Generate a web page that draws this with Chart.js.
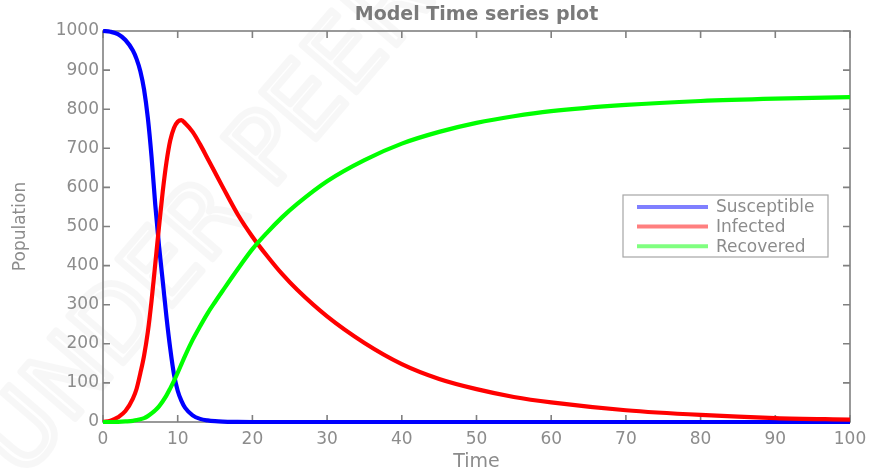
<!DOCTYPE html>
<html>
<head>
<meta charset="utf-8">
<script src="https://cdn.jsdelivr.net/npm/chart.js@4.4.1/dist/chart.umd.min.js"></script>
<style>
  html, body { margin: 0; padding: 0; background: #fff; }
  #wrap { width: 876px; height: 474px; }
</style>
</head>
<body>
<div id="wrap"><canvas id="simChart" width="876" height="474"></canvas></div>
<script>
// values
const times       = [0, 1, 2, 3, 4, 4.5, 5, 5.5, 6, 6.5, 7, 7.5, 8, 8.5, 9, 9.5, 10, 10.5, 11, 12, 13, 14, 15, 16, 18, 20, 22, 24, 26, 30, 35, 40, 45, 50, 55, 60, 70, 80, 90, 100];
const susceptible = [1000, 998, 992, 977, 950, 928, 897, 850, 778, 678, 555, 450, 360, 268, 188, 122, 80, 54, 36, 17, 8, 4, 2, 1, 0.3, 0, 0, 0, 0, 0, 0, 0, 0, 0, 0, 0, 0, 0, 0, 0];
const infected    = [0, 3, 12, 28, 60, 85, 125, 170, 230, 310, 405, 500, 590, 665, 720, 752, 768, 772, 764, 742, 710, 674, 638, 602, 532, 474, 424, 378, 338, 270, 202, 148, 110, 84, 64, 50, 30, 18, 10, 6];
const recovered   = [0, 0, 0.5, 1.5, 3, 5, 7, 10, 15, 22, 30, 40, 53, 68, 86, 105, 126, 148, 170, 210, 245, 278, 307, 335, 390, 442, 485, 524, 558, 616, 670, 712, 742, 765, 782, 795, 811, 821, 827, 831];

const seriesNames  = ['Susceptible', 'Infected', 'Recovered'];
const seriesColors = ['#0000ff', '#ff0000', '#00ff00'];
const legendColors = ['rgba(0,0,255,0.5)', 'rgba(255,0,0,0.5)', 'rgba(0,255,0,0.5)'];

const xTickValues = [0, 10, 20, 30, 40, 50, 60, 70, 80, 90, 100];
const yTickValues = [0, 100, 200, 300, 400, 500, 600, 700, 800, 900, 1000];

const chartTitle = 'Model Time series plot';
const watermark  = 'UNDER PEER REVIEW';

const GRAY = '#8c8c8c';
const FONT = "'DejaVu Sans', sans-serif";

function toPoints(vals) {
    return times.map((t, i) => ({ x: t, y: vals[i] }));
}

// white background, faint outlined watermark, title centred on the axes
const backdrop = {
    id: 'backdrop',
    beforeDraw(chart) {
        const ctx = chart.ctx;
        ctx.save();
        ctx.fillStyle = '#fff';
        ctx.fillRect(0, 0, chart.width, chart.height);
        ctx.translate(22, 480);
        ctx.rotate(-0.86);
        ctx.font = "98px " + FONT;
        ctx.strokeStyle = 'rgba(0,0,0,0.03)';
        ctx.lineWidth = 7;
        ctx.lineJoin = 'round';
        ctx.strokeText(watermark, 0, 0);
        ctx.restore();
    },
    afterDraw(chart) {
        const ctx = chart.ctx;
        const a = chart.chartArea;
        ctx.save();
        ctx.font = "bold 19px " + FONT;
        ctx.fillStyle = '#7a7a7a';
        ctx.textAlign = 'center';
        ctx.textBaseline = 'middle';
        ctx.fillText(chartTitle, (a.left + a.right) / 2, 15);
        ctx.restore();
    }
};

// matlab style box with inward ticks on all four sides
const boxAxes = {
    id: 'boxAxes',
    beforeDatasetsDraw(chart) {
        const { ctx, chartArea: a, scales } = chart;
        const tl = 7;
        ctx.save();
        ctx.strokeStyle = '#808080';
        ctx.lineWidth = 1.6;
        ctx.strokeRect(a.left, a.top, a.right - a.left, a.bottom - a.top);
        ctx.beginPath();
        xTickValues.forEach(v => {
            const px = scales.x.getPixelForValue(v);
            ctx.moveTo(px, a.bottom); ctx.lineTo(px, a.bottom - tl);
            ctx.moveTo(px, a.top); ctx.lineTo(px, a.top + tl);
        });
        yTickValues.forEach(v => {
            const py = scales.y.getPixelForValue(v);
            ctx.moveTo(a.left, py); ctx.lineTo(a.left + tl, py);
            ctx.moveTo(a.right, py); ctx.lineTo(a.right - tl, py);
        });
        ctx.stroke();
        ctx.restore();
    }
};

// legend box inside the axes
const insideLegend = {
    id: 'insideLegend',
    afterDraw(chart) {
        const ctx = chart.ctx;
        const bx = 623, by = 195, bw = 205, bh = 62;
        ctx.save();
        ctx.fillStyle = '#fff';
        ctx.fillRect(bx, by, bw, bh);
        ctx.strokeStyle = '#a6a6a6';
        ctx.lineWidth = 1.2;
        ctx.strokeRect(bx, by, bw, bh);
        ctx.font = "17px " + FONT;
        ctx.textBaseline = 'middle';
        ctx.fillStyle = GRAY;
        chart.data.datasets.forEach((ds, i) => {
            const y = by + 12 + i * 19.6;
            ctx.strokeStyle = legendColors[i];
            ctx.lineWidth = 4;
            ctx.beginPath();
            ctx.moveTo(637, y);
            ctx.lineTo(708, y);
            ctx.stroke();
            ctx.fillText(ds.label, 716, y + 1);
        });
        ctx.restore();
    }
};

const ctx = document.getElementById('simChart').getContext('2d');

new Chart(ctx, {
    type: 'line',
    data: {
        datasets: [susceptible, infected, recovered].map((vals, i) => ({
            label: seriesNames[i],
            data: toPoints(vals),
            borderColor: seriesColors[i],
            backgroundColor: seriesColors[i],
            borderWidth: 4.2,
            pointRadius: 0,
            fill: false,
            cubicInterpolationMode: 'monotone',
            clip: 6,
            order: 2 - i
        }))
    },
    options: {
        responsive: false,
        animation: false,
        devicePixelRatio: 1,
        layout: { padding: { left: 0, right: 26, top: 31, bottom: 0 } },
        plugins: {
            legend: { display: false },
            tooltip: { enabled: false },
            title: { display: false }
        },
        scales: {
            x: {
                type: 'linear',
                min: 0,
                max: 100,
                afterBuildTicks: s => { s.ticks = xTickValues.map(v => ({ value: v })); },
                afterFit: s => { s.height = 52; },
                grid: { display: false, drawTicks: false },
                border: { display: false },
                ticks: { color: GRAY, font: { family: FONT, size: 17 }, padding: 7, maxRotation: 0,
                         callback: v => String(v) },
                title: {
                    display: true,
                    text: 'Time',
                    color: GRAY,
                    font: { family: FONT, size: 19, lineHeight: 1.2 },
                    padding: { top: 0, bottom: 1 }
                }
            },
            y: {
                type: 'linear',
                min: 0,
                max: 1000,
                afterBuildTicks: s => { s.ticks = yTickValues.map(v => ({ value: v })); },
                afterFit: s => { s.width = 103; },
                grid: { display: false, drawTicks: false },
                border: { display: false },
                ticks: { color: GRAY, font: { family: FONT, size: 17 }, padding: 4,
                         callback: v => String(v) },
                title: {
                    display: true,
                    text: 'Population',
                    color: GRAY,
                    font: { family: FONT, size: 17, lineHeight: 1.2 },
                    padding: { top: 10, bottom: 0 }
                }
            }
        }
    },
    plugins: [backdrop, boxAxes, insideLegend]
});
</script>
</body>
</html>
